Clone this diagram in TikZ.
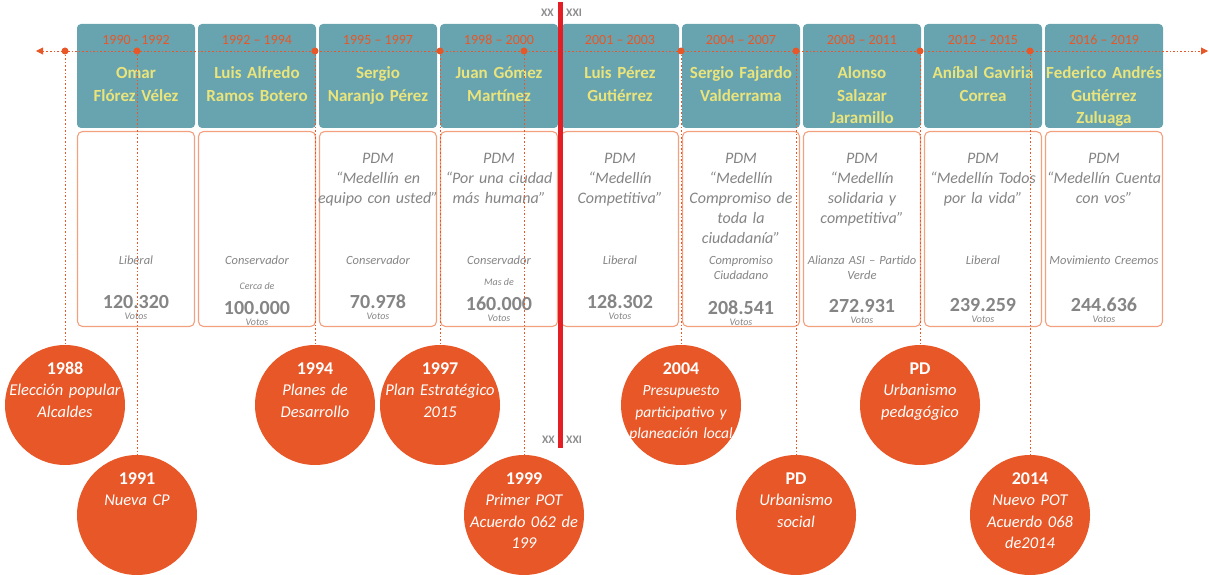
\documentclass[tikz,border=0pt]{standalone}
\usepackage{fontspec}
\setmainfont{Carlito}
\usetikzlibrary{arrows.meta}
\definecolor{tealbox}{HTML}{67A4B0}
\definecolor{orng}{HTML}{E85727}
\definecolor{boxline}{HTML}{F3A07E}
\definecolor{yel}{HTML}{EAE47B}
\definecolor{txtgray}{HTML}{858585}
\definecolor{redline}{HTML}{E31E24}
\definecolor{xxgray}{HTML}{8C8C8C}
\tikzset{
  namebox/.style={fill=tealbox, rounded corners=4pt, minimum width=118pt, minimum height=104pt, inner sep=0pt},
  infobox/.style={draw=boxline, line width=1.1pt, rounded corners=5pt, fill=white, minimum width=117pt, minimum height=195pt, inner sep=0pt},
  yeartxt/.style={text=orng, font=\fontsize{14}{16}\selectfont, anchor=base, inner sep=0pt},
  nametxt/.style={text=yel, font=\fontsize{17}{22.5}\selectfont\bfseries, anchor=base, align=center, text width=120pt, inner sep=0pt},
  pdmtxt/.style={text=txtgray, font=\fontsize{16}{20}\selectfont\itshape, anchor=base, align=center, text width=124pt, inner sep=0pt},
  partytxt/.style={text=txtgray, font=\fontsize{12.5}{15.5}\selectfont\itshape, anchor=base, align=center, text width=120pt, inner sep=0pt},
  smalltxt/.style={text=txtgray, font=\fontsize{10}{11}\selectfont\itshape, anchor=base, inner sep=0pt},
  numtxt/.style={text=txtgray, font=\fontsize{20}{22}\selectfont\bfseries, anchor=base, inner sep=0pt},
  dotline/.style={draw=orng, line width=0.9pt, dash pattern=on 1.6pt off 2pt},
  tdot/.style={circle, fill=orng, inner sep=0pt, minimum size=7pt},
  event/.style={circle, fill=orng, minimum size=120pt, inner sep=0pt},
  evtxt/.style={text=white, font=\fontsize{16.5}{21.5}\selectfont\itshape, anchor=base, align=center, text width=130pt, inner sep=0pt},
  xxtxt/.style={text=xxgray, font=\fontsize{11.5}{13}\selectfont\bfseries, inner sep=0pt},
  redbar/.style={draw=redline, line width=5pt}
}
\newcommand{\evyear}[1]{{\upshape\bfseries\fontsize{18}{21.5}\selectfont #1}}
\begin{document}
\begin{tikzpicture}[x=1pt,y=-1pt]
\useasboundingbox (0,0) rectangle (1209,575);
% top boxes
\foreach \i/\yr/\nm in {
  1/{1990 - 1992}/{Omar\\Flórez Vélez},
  2/{1992 – 1994}/{Luis Alfredo\\Ramos Botero},
  3/{1995 – 1997}/{Sergio\\Naranjo Pérez},
  4/{1998 – 2000}/{Juan Gómez\\Martínez},
  5/{2001 – 2003}/{Luis Pérez\\Gutiérrez},
  6/{2004 – 2007}/{Sergio Fajardo\\Valderrama},
  7/{2008 – 2011}/{Alonso\\Salazar\\Jaramillo},
  8/{2012 – 2015}/{Aníbal Gaviria\\Correa},
  9/{2016 – 2019}/{Federico Andrés\\Gutiérrez\\Zuluaga}}{
  \pgfmathsetmacro{\cx}{136+121*(\i-1)}
  \node[namebox] (top\i) at (\cx,76) {};
  \node[yeartxt] (yr\i) at (\cx,45) {\yr};
  \node[nametxt] (nm\i) at (\cx,79) {\nm};
  \node[infobox] (box\i) at (\cx,229) {};
}
% lower box texts
\node[pdmtxt] (pdm3) at (378,163) {PDM\\“Medellín en\\equipo con usted”};
\node[pdmtxt] (pdm4) at (499,163) {PDM\\“Por una ciudad\\más humana”};
\node[pdmtxt] (pdm5) at (620,163) {PDM\\“Medellín\\Competitiva”};
\node[pdmtxt] (pdm6) at (741,163) {PDM\\“Medellín\\Compromiso de\\toda la\\ciudadanía”};
\node[pdmtxt] (pdm7) at (862,163) {PDM\\“Medellín\\solidaria y\\competitiva”};
\node[pdmtxt] (pdm8) at (983,163) {PDM\\“Medellín Todos\\por la vida”};
\node[pdmtxt] (pdm9) at (1104,163) {PDM\\“Medellín Cuenta\\con vos”};

\node[partytxt] (pt1) at (136,264) {Liberal};
\node[partytxt] (pt2) at (257,264) {Conservador};
\node[partytxt] (pt3) at (378,264) {Conservador};
\node[partytxt] (pt4) at (499,264) {Conservador};
\node[partytxt] (pt5) at (620,264) {Liberal};
\node[partytxt] (pt6) at (741,264) {Compromiso\\Ciudadano};
\node[partytxt] (pt7) at (862,264) {Alianza ASI – Partido\\Verde};
\node[partytxt] (pt8) at (983,264) {Liberal};
\node[partytxt] (pt9) at (1104,264) {Movimiento Creemos};

\node[smalltxt] (pre2) at (257,289) {Cerca de};
\node[smalltxt] (pre4) at (499,285) {Mas de};

\foreach \i/\cx/\ny/\num in {1/136/308/120.320, 2/257/314/100.000, 3/378/308/70.978,
  4/499/310/160.000, 5/620/308/128.302, 6/741/314/208.541, 7/862/312/272.931,
  8/983/311/239.259, 9/1104/311/244.636}{
  \node[numtxt] (num\i) at (\cx,\ny) {\num};
  \node[smalltxt] (vot\i) at (\cx,\ny+11) {Votos};
}

% timeline
\coordinate (tl) at (36,51);
\coordinate (tr) at (1208,51);
\draw[dotline, {Triangle[length=7pt,width=7pt]}-{Triangle[length=7pt,width=7pt]}] (tl) -- (tr);

% events
\foreach \i/\cx/\cy in {1/65/405, 2/137/515, 3/315/405, 4/440/405, 5/524/515,
  6/681/405, 7/796/515, 8/920/405, 9/1030/515}{
  \node[tdot] (d\i) at (\cx,51) {};
  \node[event] (e\i) at (\cx,\cy) {};
  \draw[dotline] (d\i) -- (e\i.north);
}
\node[evtxt] (t1) at (65,374) {\evyear{1988}\\Elección popular\\Alcaldes};
\node[evtxt] (t2) at (137,484) {\evyear{1991}\\Nueva CP};
\node[evtxt] (t3) at (315,374) {\evyear{1994}\\Planes de\\Desarrollo};
\node[evtxt] (t4) at (440,374) {\evyear{1997}\\Plan Estratégico\\2015};
\node[evtxt] (t5) at (524,484) {\evyear{1999}\\Primer POT\\Acuerdo 062 de\\199};
\node[evtxt, font=\fontsize{15.5}{21.5}\selectfont\itshape] (t6) at (681,374) {\evyear{2004}\\Presupuesto\\participativo y\\planeación local};
\node[evtxt] (t7) at (796,484) {\evyear{PD}\\Urbanismo\\social};
\node[evtxt] (t8) at (920,374) {\evyear{PD}\\Urbanismo\\pedagógico};
\node[evtxt] (t9) at (1030,484) {\evyear{2014}\\Nuevo POT\\Acuerdo 068\\de2014};

% century divider
\coordinate (rtop) at (560,2);
\coordinate (rbot) at (560,448);
\draw[redbar] (rtop) -- (rbot);
\node[xxtxt, anchor=east] (xx1) at (554,13) {XX};
\node[xxtxt, anchor=west] (xxi1) at (566,13) {XXI};
\node[xxtxt, anchor=east] (xx2) at (555,440) {XX};
\node[xxtxt, anchor=west] (xxi2) at (566,440) {XXI};
\end{tikzpicture}
\end{document}
